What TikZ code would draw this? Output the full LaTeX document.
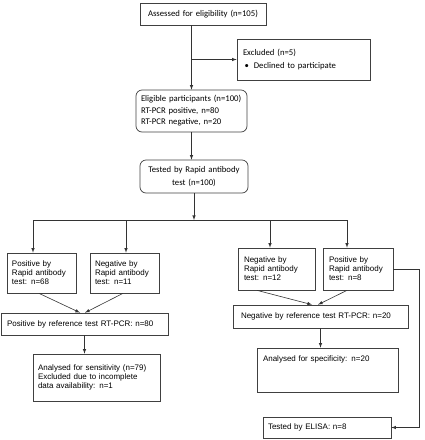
\documentclass[tikz,border=0pt]{standalone}
\usepackage{fontspec}
\setmainfont{Carlito}
\newfontfamily\arialfont{Liberation Sans}
\begin{document}
\begin{tikzpicture}[x=1pt, y=-1pt,
	box/.style={draw=black!75, line width=0.7pt, inner xsep=5pt, inner ysep=0pt, align=left},
	calbox/.style={box, font=\fontsize{8.7}{11.5}\selectfont},
	rbox/.style={calbox, rounded corners=6pt},
	arbox/.style={box, font=\arialfont\fontsize{8}{9}\selectfont},
	conn/.style={draw=black!80, line width=0.6pt}]
\useasboundingbox (0,0) rectangle (425,440);

%enrolment
\node[calbox, align=center, text width=116pt, minimum height=22pt] (assess) at (203,14) {Assessed for eligibility (n=105)};
\node[calbox, inner xsep=6pt, text width=121pt, minimum height=41pt] (excl) at (303.5,59.5) {Excluded (n=5)\\[2pt]\hspace*{1.5pt}\textbullet\hspace{5pt}Declined to participate};
\node[rbox, text width=101pt, minimum height=42pt] (elig) at (191.5,111) {Eligible participants (n=100)\\RT-PCR positive, n=80\\RT-PCR negative, n=20};
\node[rbox, align=center, font=\fontsize{8.7}{13}\selectfont, text width=98pt, minimum height=33pt] (tested) at (194,176.5) {Tested by Rapid antibody\\test (n=100)};

\draw[conn][-latex] (assess.south -| elig.north) -- (elig.north);
\draw[conn][-latex] (excl.west -| elig.north) -- (excl.west);
\draw[conn][-latex] (elig.south) -- (elig.south |- tested.north);

%rapid test results
\node[arbox, text width=59pt, minimum height=40pt] (posA) at (41.5,273) {Positive by\\Rapid antibody\\test: n=68};
\node[arbox, text width=59pt, minimum height=40pt] (negB) at (124.5,273) {Negative by\\Rapid antibody\\test: n=11};
\node[arbox, inner xsep=6pt, text width=65pt, minimum height=42pt] (negC) at (276.5,269) {Negative by\\Rapid antibody\\test: n=12};
\node[arbox, inner xsep=6pt, text width=58pt, minimum height=42pt] (posD) at (358,269) {Positive by\\Rapid antibody\\test: n=8};

\coordinate (split) at (194,220);
\coordinate (bA) at (33,220);
\coordinate (bB) at (126,220);
\coordinate (bC) at (270,220);
\coordinate (bD) at (347,220);

\draw[conn][-latex] (tested.south) -- (split);
\draw[conn] (bA) -- (bD);
\foreach \b/\n in {bA/posA, bB/negB, bC/negC, bD/posD} {
	\draw[conn][-latex] (\b) -- (\b |- \n.north);
}

%reference test
\node[arbox, inner xsep=6pt, text width=155pt, minimum height=22pt] (posref) at (84.5,324) {Positive by reference test RT-PCR: n=80};
\node[arbox, inner xsep=8pt, text width=159pt, minimum height=23pt] (negref) at (320.5,316.5) {Negative by reference test RT-PCR: n=20};

\draw[conn][-latex] ([xshift=-2.5pt]posA.south) -- ([xshift=-4.5pt]posref.north);
\draw[conn][-latex] ([xshift=-1.5pt]negB.south) -- ([xshift=0.5pt]posref.north);
\draw[conn][-latex] ([xshift=-19.5pt]negC.south) -- ([xshift=-8.5pt]negref.north);
\draw[conn][-latex] ([xshift=-11pt]posD.south) -- ([xshift=-2.5pt]negref.north);

%analysis
\node[arbox, text width=117pt, minimum height=47pt] (sens) at (96.5,377.5) {Analysed for sensitivity (n=79)\\Excluded due to incomplete\\data availability: n=1};
\node[arbox, inner xsep=6pt, text width=129pt, text height=13pt, text depth=31pt] (spec) at (327.5,370) {Analysed for specificity: n=20};
\node[arbox, text width=118pt, minimum height=21pt] (elisa) at (327,427.5) {Tested by ELISA: n=8};

\draw[conn][-latex] (posref.south) -- (posref.south |- sens.north);
\draw[conn][-latex] (negref.south) -- (negref.south |- spec.north);

\coordinate (rt) at (419,270);
\draw[conn][-latex] (posD.east) -- (posD.east -| rt) |- (elisa.east);
\end{tikzpicture}
\end{document}
